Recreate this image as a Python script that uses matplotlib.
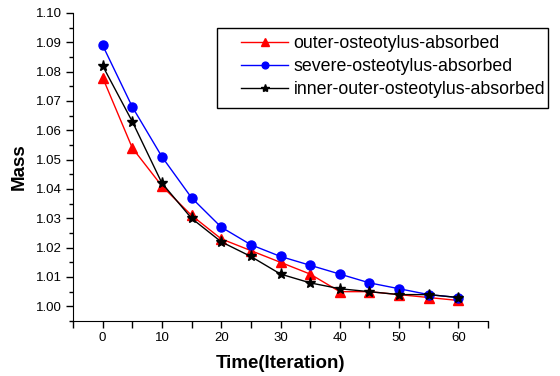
import numpy as np
import matplotlib.pyplot as plt
from matplotlib.ticker import MultipleLocator
from matplotlib.patches import Rectangle

plt.rcParams['font.family'] = ['Liberation Sans', 'DejaVu Sans']

time = [0, 5, 10, 15, 20, 25, 30, 35, 40, 45, 50, 55, 60]
outer = [1.078, 1.054, 1.041, 1.031, 1.023, 1.019, 1.015, 1.011, 1.005, 1.005, 1.004, 1.003, 1.002]
severe = [1.089, 1.068, 1.051, 1.037, 1.027, 1.021, 1.017, 1.014, 1.011, 1.008, 1.006, 1.004, 1.003]
inner_outer = [1.082, 1.063, 1.042, 1.030, 1.022, 1.017, 1.011, 1.008, 1.006, 1.005, 1.004, 1.004, 1.003]

W, H = 560, 376
fig = plt.figure(figsize=(W/100, H/100), dpi=100)
ax = fig.add_axes([73/W, 1 - 321/H, (488-73)/W, (321-13)/H])

ax.plot(time, outer, color='red', marker='^', ms=7, lw=1, label='outer-osteotylus-absorbed')
ax.plot(time, severe, color='blue', marker='o', ms=6.5, lw=1, label='severe-osteotylus-absorbed')
ax.plot(time, inner_outer, color='black', marker='*', ms=8, lw=1, label='inner-outer-osteotylus-absorbed')

ax.set_xlim(-5, 65)
ax.set_ylim(0.995, 1.10)
ax.xaxis.set_major_locator(MultipleLocator(10))
ax.xaxis.set_minor_locator(MultipleLocator(5))
ax.yaxis.set_major_locator(MultipleLocator(0.01))
ax.yaxis.set_minor_locator(MultipleLocator(0.005))
ax.yaxis.set_major_formatter(plt.FormatStrFormatter('%.2f'))
ax.tick_params(which='major', direction='out', length=5, width=1, labelsize=9.5, pad=3)
ax.tick_params(axis='x', which='minor', direction='out', length=5, width=1)
ax.tick_params(axis='y', which='minor', direction='out', length=3, width=1)

ax.spines['top'].set_visible(False)
ax.spines['right'].set_visible(False)

ax.set_xlabel('Time(Iteration)', fontsize=13.5, fontweight='bold', labelpad=8)
ax.set_ylabel('Mass', fontsize=13.5, fontweight='bold', labelpad=6)

# legend text without its own frame, box drawn separately
leg = ax.legend(loc='upper left', bbox_to_anchor=(241/W, 1 - 35/H),
                bbox_transform=fig.transFigure, fontsize=12.8, frameon=False,
                handlelength=2.65, handletextpad=0.3, labelspacing=0.33,
                borderpad=0, borderaxespad=0, markerscale=0.75)
fig.patches.append(Rectangle((217/W, 1 - 108/H), (548-217)/W, 80/H,
                             transform=fig.transFigure, fill=False,
                             edgecolor='black', lw=1))

fig.savefig('out.png', dpi=100)
